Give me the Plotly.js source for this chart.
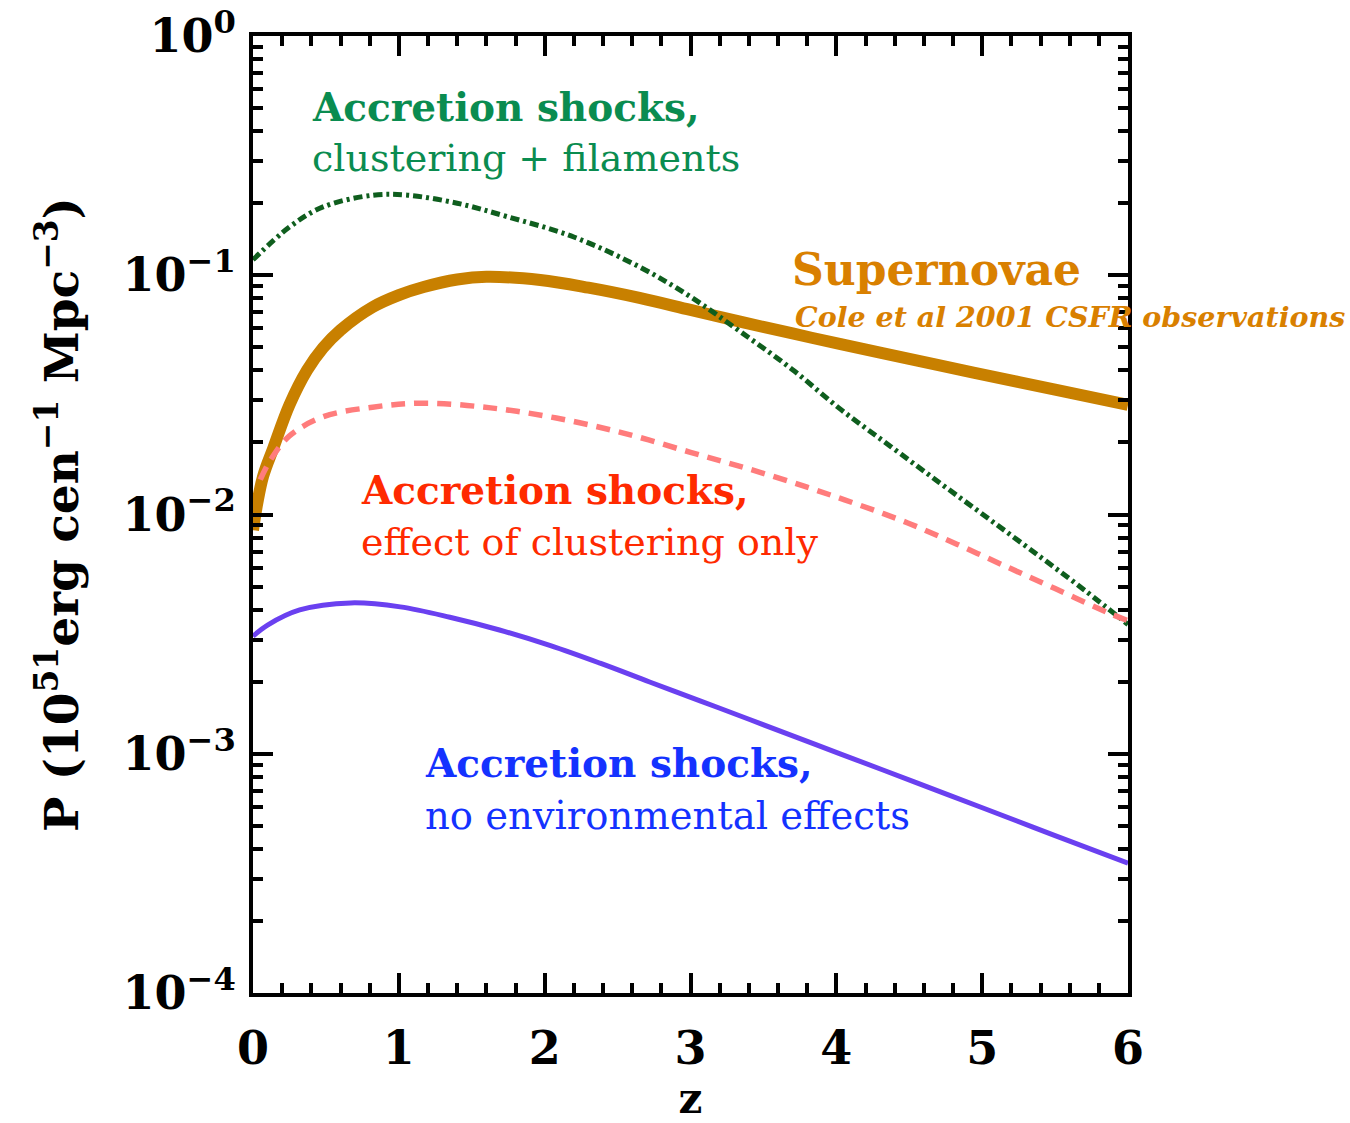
<!DOCTYPE html>
<html>
<head>
<meta charset="utf-8">
<script src="https://cdn.plot.ly/plotly-3.0.1.min.js"></script>
<style>html,body{margin:0;padding:0;background:#fff;}#chart{width:1350px;height:1123px;}</style>
</head>
<body>
<div id="chart"></div>
<script>
// Supernovae (Cole et al 2001 CSFR)
const snZ = [0.0, 0.03, 0.07, 0.14, 0.25, 0.37, 0.48, 0.6, 0.82, 1.0, 1.17, 1.4, 1.6, 1.97, 2.3, 2.65, 3.0, 3.34, 3.7, 4.03, 4.5, 4.94, 5.5, 6.0];
const snP = [0.0086, 0.0112, 0.0145, 0.0190, 0.0287, 0.0400, 0.0497, 0.059, 0.0736, 0.0826, 0.0893, 0.096, 0.0985, 0.0955, 0.0887, 0.0804, 0.0716, 0.0640, 0.0571, 0.0515, 0.0447, 0.0392, 0.0333, 0.0287];

// Accretion shocks, clustering + filaments
const filZ = [0.0, 0.25, 0.48, 0.82, 1.06, 1.4, 1.74, 2.2, 2.65, 3.0, 3.34, 3.7, 4.03, 4.37, 4.71, 5.05, 5.4, 5.7, 6.0];
const filP = [0.116, 0.159, 0.193, 0.216, 0.216, 0.200, 0.176, 0.1445, 0.1084, 0.0813, 0.0582, 0.0403, 0.0275, 0.0193, 0.01355, 0.00955, 0.00664, 0.00484, 0.00347];

// Accretion shocks, effect of clustering only
const cluZ = [0.05, 0.12, 0.25, 0.48, 0.82, 1.17, 1.63, 2.08, 2.54, 3.0, 3.4, 3.8, 4.15, 4.49, 4.83, 5.17, 5.5, 5.86, 6.0];
const cluP = [0.0140, 0.0169, 0.0213, 0.0256, 0.0281, 0.0292, 0.0279, 0.0253, 0.0219, 0.0182, 0.0155, 0.0130, 0.0110, 0.00922, 0.0075, 0.00604, 0.0049, 0.00389, 0.0036];

// Accretion shocks, no environmental effects
const noZ = [0.0, 0.1, 0.32, 0.67, 1.01, 1.35, 1.69, 2.04, 2.38, 2.72, 3.07, 3.41, 3.86, 4.32, 4.66, 5.01, 5.5, 6.0];
const noP = [0.00310, 0.00345, 0.00399, 0.00427, 0.00411, 0.00372, 0.00329, 0.00283, 0.00239, 0.001995, 0.00166, 0.001387, 0.001091, 0.000855, 0.000713, 0.000592, 0.000455, 0.000349];

// Axis ticks
const yTickVals = [1, 0.1, 0.01, 0.001, 0.0001];
const yTickText = ['10<sup>0</sup>', '10<sup>\u22121</sup>', '10<sup>\u22122</sup>', '10<sup>\u22123</sup>', '10<sup>\u22124</sup>'];
const xTickVals = [0, 1, 2, 3, 4, 5, 6];
const xTickText = ['0', '1', '2', '3', '4', '5', '6'];

// minor ticks on log axis: 2..9 within each decade
const yMinor = [];
for (let e = -4; e < 0; e++) {
  for (let m = 2; m <= 9; m++) yMinor.push(m * Math.pow(10, e));
}

const serif = '"DejaVu Serif", serif';

const traces = [
  {x: snZ, y: snP, mode: 'lines', line: {color: '#c88000', width: 12, shape: 'spline', smoothing: 1}, hoverinfo: 'skip'},
  {x: filZ, y: filP, mode: 'lines', line: {color: '#0f5e1e', width: 5, dash: '9px,4px,3px,4px', shape: 'spline'}, hoverinfo: 'skip'},
  {x: cluZ, y: cluP, mode: 'lines', line: {color: '#ff7c7c', width: 5.5, dash: '14px,9px', shape: 'spline'}, hoverinfo: 'skip'},
  {x: noZ, y: noP, mode: 'lines', line: {color: '#6a40f0', width: 5, shape: 'spline'}, hoverinfo: 'skip'}
];

function ann(x, ly, text, color, size, weight, style) {
  return {x: x, y: ly, xref: 'x', yref: 'y', text: text, showarrow: false,
    xanchor: 'left', yanchor: 'middle',
    font: {family: serif, size: size, color: color, weight: weight || 'normal', style: style || 'normal'}};
}

const layout = {
  width: 1350, height: 1123,
  margin: {l: 253, r: 222, t: 36, b: 130},
  paper_bgcolor: '#fff', plot_bgcolor: '#fff',
  showlegend: false,
  xaxis: {
    range: [0, 6], showgrid: false, zeroline: false, automargin: false,
    showline: true, linecolor: '#000', linewidth: 4, mirror: 'ticks',
    ticks: 'inside', ticklen: 20, tickwidth: 4, tickcolor: '#000',
    tickmode: 'array', tickvals: xTickVals, ticktext: xTickText,
    tickfont: {family: serif, size: 46, color: '#000', weight: 'bold'},
    ticklabelstandoff: 12,
    minor: {ticks: 'inside', dtick: 0.2, ticklen: 10, tickwidth: 4, tickcolor: '#000', showgrid: false},
    title: {text: 'z', font: {family: serif, size: 42, color: '#000', weight: 'bold'}, standoff: 30}
  },
  yaxis: {
    type: 'log', range: [-4, 0], showgrid: false, zeroline: false, automargin: false,
    showline: true, linecolor: '#000', linewidth: 4, mirror: 'ticks',
    ticks: 'inside', ticklen: 20, tickwidth: 4, tickcolor: '#000',
    tickmode: 'array', tickvals: yTickVals, ticktext: yTickText,
    tickfont: {family: serif, size: 46, color: '#000', weight: 'bold'},
    ticklabelstandoff: 4,
    minor: {ticks: 'inside', tickmode: 'array', tickvals: yMinor, ticklen: 10, tickwidth: 4, tickcolor: '#000', showgrid: false},
    title: {text: 'P (10<sup>51</sup>erg cen<sup>\u22121</sup> Mpc<sup>\u22123</sup>)', font: {family: serif, size: 47, color: '#000', weight: 'bold'}, standoff: 30}
  },
  annotations: [
    ann(0.39, -0.297, 'Accretion shocks,', '#0a8c50', 39, 'bold'),
    ann(0.39, -0.51, 'clustering + filaments', '#0a8c50', 38),
    ann(3.68, -0.978, 'Supernovae', '#d98000', 44, 'bold'),
    ann(3.70, -1.174, 'Cole et al 2001 CSFR observations', '#d98000', 28.5, 'bold', 'italic'),
    ann(0.727, -1.898, 'Accretion shocks,', '#ff2a00', 39, 'bold'),
    ann(0.727, -2.115, 'effect of clustering only', '#ff2a00', 38),
    ann(1.166, -3.039, 'Accretion shocks,', '#1432ff', 39, 'bold'),
    ann(1.166, -3.256, 'no environmental effects', '#1432ff', 38.5)
  ]
};

Plotly.newPlot('chart', traces, layout, {displayModeBar: false, staticPlot: true});
</script>
</body>
</html>
